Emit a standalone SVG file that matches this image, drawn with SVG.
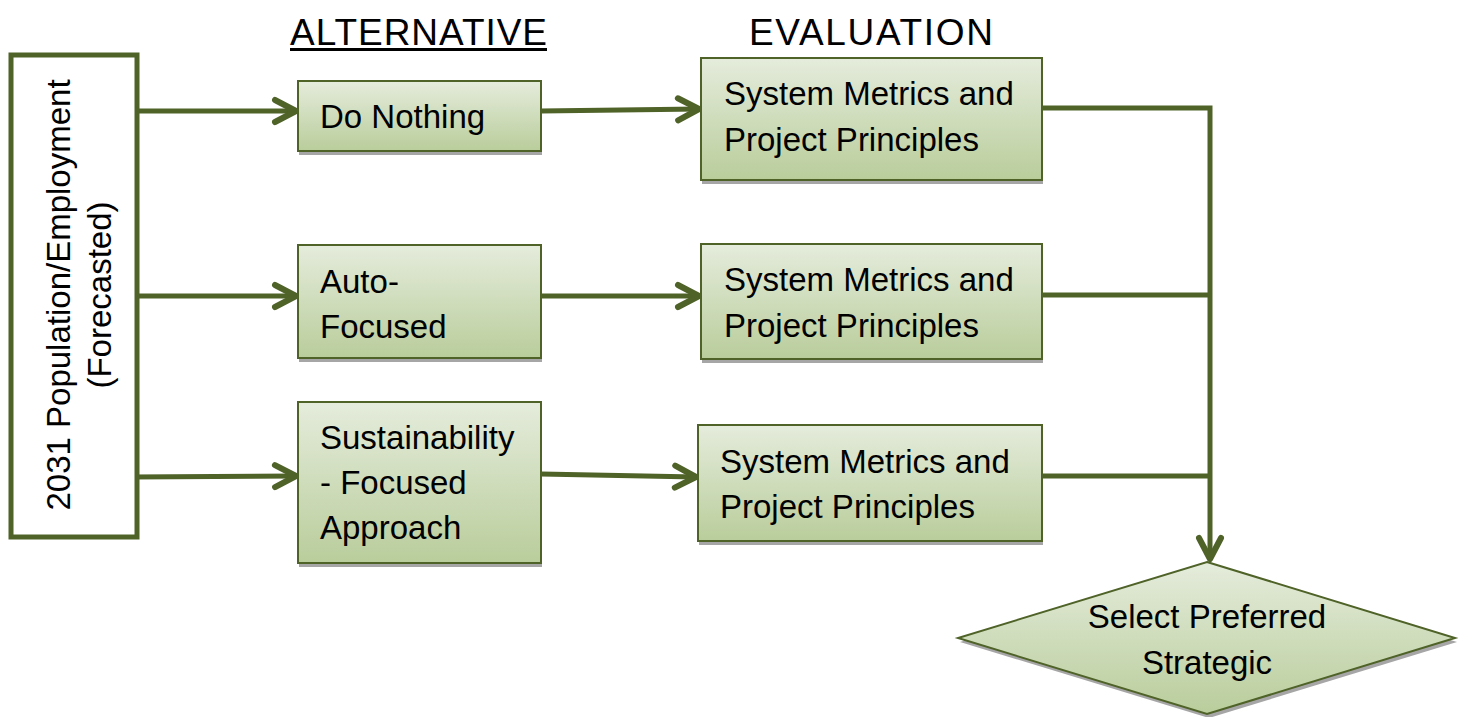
<svg xmlns="http://www.w3.org/2000/svg" width="1463" height="717" viewBox="0 0 1463 717">
<defs>
<linearGradient id="g" x1="0" y1="0" x2="0" y2="1">
<stop offset="0" stop-color="#e5ecdc"/>
<stop offset="1" stop-color="#b9cd9b"/>
</linearGradient>
<marker id="ah2" viewBox="0 0 30 30" refX="26" refY="15" markerWidth="30" markerHeight="30" markerUnits="userSpaceOnUse" orient="auto">
<path d="M5,4 L26,15 L5,26" fill="none" stroke="#4f6228" stroke-width="6" stroke-linecap="round" stroke-linejoin="round"/>
</marker>
</defs>
<style>
text{font-family:"Liberation Sans",Arial,sans-serif;fill:#000}
.t{font-size:33px}
.h{font-size:37px}
.box{fill:url(#g);stroke:#4f6228;stroke-width:2}
.sh{fill:#a6a6a6}
.c{fill:none;stroke:#4f6228;stroke-width:5}
</style>
<g id="headings">
<text class="h" x="290" y="45" textLength="257">ALTERNATIVE</text>
<rect x="290" y="48" width="257" height="3" fill="#000"/>
<text class="h" x="749" y="45" textLength="244">EVALUATION</text>
</g>
<g id="connectors">
<line class="c" x1="132" y1="111" x2="296" y2="111" marker-end="url(#ah2)"/>
<line class="c" x1="132" y1="296" x2="296" y2="296" marker-end="url(#ah2)"/>
<line class="c" x1="132" y1="477" x2="296" y2="476" marker-end="url(#ah2)"/>
<line class="c" x1="541" y1="111" x2="699" y2="109" marker-end="url(#ah2)"/>
<line class="c" x1="541" y1="296" x2="699" y2="296" marker-end="url(#ah2)"/>
<line class="c" x1="541" y1="474" x2="696" y2="477" marker-end="url(#ah2)"/>
<polyline class="c" points="1042,108 1210,108 1210,559" marker-end="url(#ah2)"/>
<line class="c" x1="1042" y1="295" x2="1210" y2="295"/>
<line class="c" x1="1042" y1="476" x2="1210" y2="476"/>
</g>
<g id="forecast">
<rect x="11" y="55" width="126" height="482" fill="#fff" stroke="#4f6228" stroke-width="5"/>
<text class="t" transform="translate(70,295) rotate(-90)" text-anchor="middle">2031 Population/Employment</text>
<text class="t" transform="translate(111,295) rotate(-90)" text-anchor="middle">(Forecasted)</text>
</g>
<g id="do-nothing">
<rect class="sh" x="299" y="83" width="243" height="72"/>
<rect class="box" x="298" y="81" width="243" height="70"/>
<text class="t" x="320" y="128">Do Nothing</text>
</g>
<g id="auto-focused">
<rect class="sh" x="299" y="247" width="243" height="115"/>
<rect class="box" x="298" y="245" width="243" height="113"/>
<text class="t" x="320" y="293">Auto-</text>
<text class="t" x="320" y="338">Focused</text>
</g>
<g id="sustainability">
<rect class="sh" x="299" y="404" width="243" height="163"/>
<rect class="box" x="298" y="402" width="243" height="161"/>
<text class="t" x="320" y="449">Sustainability</text>
<text class="t" x="320" y="494">- Focused</text>
<text class="t" x="320" y="539">Approach</text>
</g>
<g id="eval-1">
<rect class="sh" x="702" y="60" width="341" height="124"/>
<rect class="box" x="701" y="58" width="341" height="122"/>
<text class="t" x="724" y="105">System Metrics and</text>
<text class="t" x="724" y="151">Project Principles</text>
</g>
<g id="eval-2">
<rect class="sh" x="702" y="246" width="341" height="117"/>
<rect class="box" x="701" y="244" width="341" height="115"/>
<text class="t" x="724" y="291">System Metrics and</text>
<text class="t" x="724" y="337">Project Principles</text>
</g>
<g id="eval-3">
<rect class="sh" x="699" y="427" width="344" height="118"/>
<rect class="box" x="698" y="425" width="344" height="116"/>
<text class="t" x="720" y="473">System Metrics and</text>
<text class="t" x="720" y="518">Project Principles</text>
</g>
<g id="select">
<polygon points="1209,566 1457,642 1209,718 960,642" fill="#a6a6a6"/>
<polygon points="1207,562 1455,638 1207,714 958,638" fill="url(#g)" stroke="#4f6228" stroke-width="2"/>
<text class="t" x="1207" y="628" text-anchor="middle">Select Preferred</text>
<text class="t" x="1207" y="674" text-anchor="middle">Strategic</text>
</g>
</svg>
